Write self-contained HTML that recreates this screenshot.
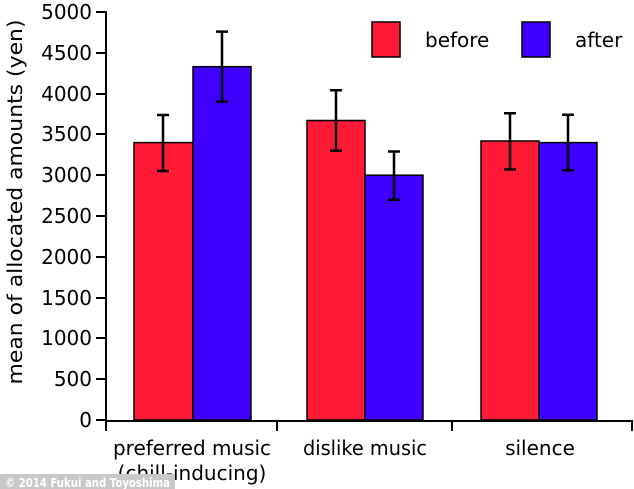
<!DOCTYPE html><html><head><style>body{margin:0;background:#fff}svg{display:block}text{font-family:"DejaVu Sans","Liberation Sans",sans-serif}</style></head><body>
<svg width="634" height="489" viewBox="0 0 634 489">
<g stroke="#000" stroke-width="1.5">
<rect x="134" y="142.6" width="59" height="277.4" fill="#ff1a35"/>
<rect x="193" y="66.7" width="58" height="353.3" fill="#3f00ff"/>
<rect x="307" y="120.5" width="58" height="299.5" fill="#ff1a35"/>
<rect x="365" y="175.2" width="58" height="244.8" fill="#3f00ff"/>
<rect x="481" y="141" width="58" height="279" fill="#ff1a35"/>
<rect x="539" y="142.6" width="58" height="277.4" fill="#3f00ff"/>
</g>
<g stroke="#000" stroke-width="2.5" fill="none">
<path d="M163 171V115M157 171h12M157 115h12"/>
<path d="M222 101.8V31.6M216 101.8h12M216 31.6h12"/>
<path d="M336 150.7V90.3M330 150.7h12M330 90.3h12"/>
<path d="M394 199.7V151.5M388 199.7h12M388 151.5h12"/>
<path d="M510 169.5V113.2M504 169.5h12M504 113.2h12"/>
<path d="M568 170.3V114.8M562 170.3h12M562 114.8h12"/>
</g>
<g stroke="#000" stroke-width="2" fill="none">
<path d="M106 11V421H632"/>
<path d="M96 12h10M96 53h10M96 94h10M96 134h10M96 175h10M96 216h10M96 257h10M96 298h10M96 338h10M96 379h10M96 420h10"/>
<path d="M106 420v11M277 420v11M452 420v11M632 420v11"/>
</g>
<g font-size="20" text-anchor="end" fill="#000">
<text x="92" y="19">5000</text><text x="92" y="60">4500</text><text x="92" y="101">4000</text><text x="92" y="141">3500</text><text x="92" y="182">3000</text><text x="92" y="223">2500</text><text x="92" y="264">2000</text><text x="92" y="305">1500</text><text x="92" y="345">1000</text><text x="92" y="386">500</text><text x="92" y="427">0</text>
</g>
<text transform="translate(22,202) rotate(-90)" font-size="20" text-anchor="middle" textLength="365" lengthAdjust="spacingAndGlyphs">mean of allocated amounts (yen)</text>
<g font-size="20" text-anchor="middle">
<text x="192" y="455" textLength="158" lengthAdjust="spacingAndGlyphs">preferred music</text>
<text x="192" y="480">(chill-inducing)</text>
<text x="365" y="455" textLength="124" lengthAdjust="spacingAndGlyphs">dislike music</text>
<text x="540" y="455">silence</text>
</g>
<rect x="372" y="22" width="28" height="35" fill="#ff1a35" stroke="#000" stroke-width="1.5"/>
<text x="425" y="47" font-size="20">before</text>
<rect x="522" y="22" width="28" height="35" fill="#3f00ff" stroke="#000" stroke-width="1.5"/>
<text x="575" y="47" font-size="20">after</text>
<rect x="0" y="474" width="175" height="15" fill="#c8c8c8"/>
<text x="5" y="487" font-size="12" font-weight="bold" fill="#fff" font-family="Liberation Sans" textLength="165" lengthAdjust="spacingAndGlyphs">© 2014 Fukui and Toyoshima</text>
</svg>
</body></html>
